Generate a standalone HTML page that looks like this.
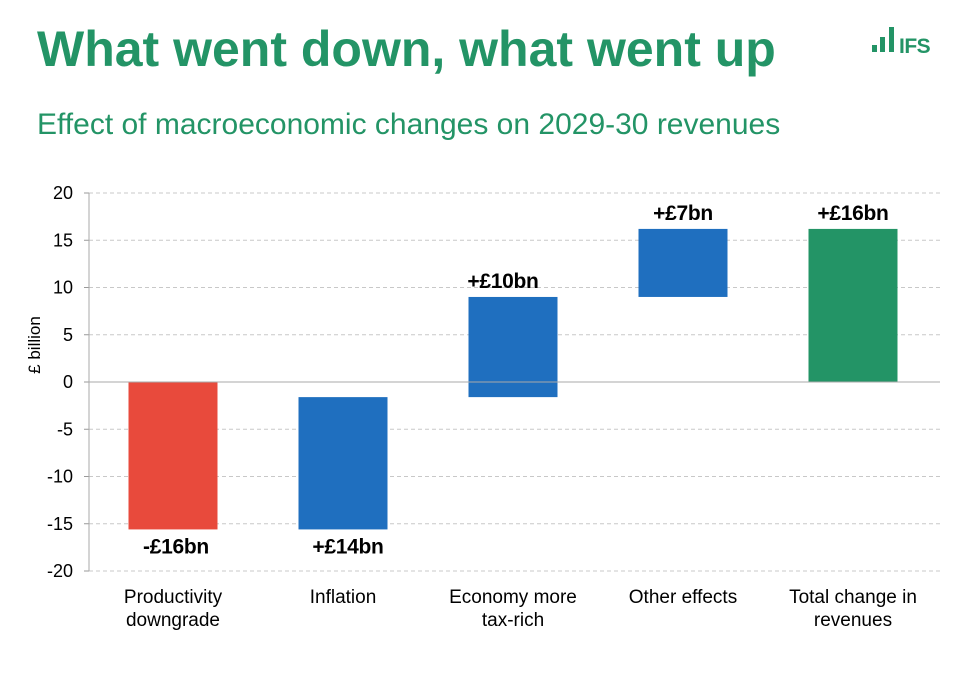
<!DOCTYPE html>
<html><head><meta charset="utf-8"><style>
body{margin:0;background:#fff;width:974px;height:694px;overflow:hidden;font-family:"Liberation Sans",sans-serif}
svg text{font-family:"Liberation Sans",sans-serif}
</style></head><body>
<svg id="c" width="974" height="694">
<text x="37" y="66" font-size="50" font-weight="bold" fill="#239466">What went down, what went up</text>
<text x="37" y="134" font-size="30" fill="#239466">Effect of macroeconomic changes on 2029-30 revenues</text>
<g fill="#239466">
<rect x="872" y="45" width="5" height="7"/><rect x="880" y="37" width="5" height="15"/><rect x="889" y="27" width="5" height="25"/>
<text x="899" y="53" font-size="21" font-weight="bold" letter-spacing="-0.5">IFS</text></g>
<text transform="translate(40,345) rotate(-90)" text-anchor="middle" font-size="17">£ billion</text>
<g id="plot"></g>
</svg>
<script>
const categories=[["Productivity","downgrade"],["Inflation"],["Economy more","tax-rich"],["Other effects"],["Total change in","revenues"]];
const starts=[0,-15.6,-1.6,9.0,0];
const ends=[-15.6,-1.6,9.0,16.2,16.2];
const labels=["-£16bn","+£14bn","+£10bn","+£7bn","+£16bn"];
const colors=["#e84a3c","#1f6fbf","#1f6fbf","#1f6fbf","#239466"];
const ticks=[20,15,10,5,0,-5,-10,-15,-20];
const NS="http://www.w3.org/2000/svg",g=document.getElementById('plot');
const x0=89,x1=940,band=170,bw=89;
const labelOffsets=[3,5,-10,0,0];
function y(v){return 382-v*9.45;}
function mk(t,a){const e=document.createElementNS(NS,t);for(const k in a)e.setAttribute(k,a[k]);g.appendChild(e);return e;}
ticks.forEach(t=>{
 if(t!==0){const l=mk('line',{x1:x0,x2:x1,y1:y(t),y2:y(t),stroke:'#c8c8c8','stroke-dasharray':'4,3'});
 
 }
 mk('line',{x1:x0-5,x2:x0,y1:y(t),y2:y(t),stroke:'#999'});
 const tx=mk('text',{x:x0-16,y:y(t)+6,'text-anchor':'end','font-size':18});tx.textContent=t;
 
 
});
const ax=mk('line',{x1:x0,x2:x0,y1:y(20),y2:y(-20),stroke:'#aaa'});


for(let i=0;i<categories.length;i++){
 const cx=x0+band*(i+0.5)-1,top=Math.max(starts[i],ends[i]),bot=Math.min(starts[i],ends[i]);
 const r=mk('rect',{x:cx-bw/2,y:y(top),width:bw,height:y(bot)-y(top),fill:colors[i]});
 
 
 const neg=ends[i]<0||i===1;
 const ly=neg?y(bot)+24:y(top)-9;
 const lt=mk('text',{x:cx+labelOffsets[i],y:ly,'text-anchor':'middle','font-size':21,'font-weight':'bold','letter-spacing':'-0.3'});lt.textContent=labels[i];
 
 
 categories[i].forEach((s,j)=>{const t=mk('text',{x:cx,y:603+j*23,'text-anchor':'middle','font-size':19});t.textContent=s;
 
 });
}
const zl=mk('line',{x1:x0,x2:x1,y1:y(0),y2:y(0),stroke:'#aaa'});


</script>
</body></html>
